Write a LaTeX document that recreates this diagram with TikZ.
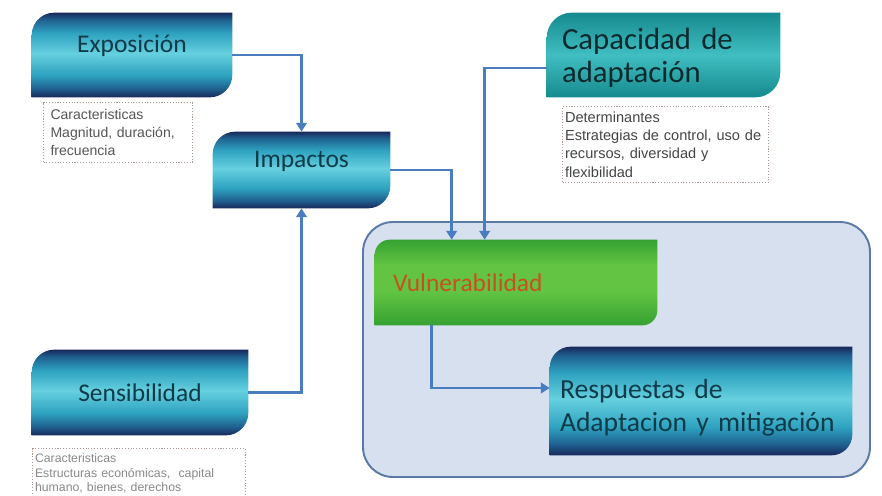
\documentclass[tikz,border=0pt]{standalone}
\usepackage{fontspec}
\setmainfont{Carlito}
\newfontfamily\notefont{Liberation Sans}
\usetikzlibrary{arrows.meta,backgrounds}

\definecolor{navyD}{HTML}{18285A}
\definecolor{blueM}{HTML}{1F5F8E}
\definecolor{cyanM}{HTML}{2EA2C0}
\definecolor{cyanL}{HTML}{66D0DF}
\definecolor{tealD}{HTML}{168A8E}
\definecolor{tealL}{HTML}{40BEC1}
\definecolor{greenD}{HTML}{36A232}
\definecolor{greenL}{HTML}{62C442}
\definecolor{boxtext}{HTML}{0F3A48}
\definecolor{captext}{HTML}{0C2A2E}
\definecolor{vultext}{HTML}{C8501E}
\definecolor{notetext}{HTML}{555555}
\definecolor{noteline}{HTML}{A89890}
\definecolor{arrowblue}{HTML}{4A7CC0}
\definecolor{zonefill}{HTML}{D6E0EE}
\definecolor{zoneline}{HTML}{5B7AA6}

% the path covers 25bp..75bp of a shading
\pgfdeclareverticalshading{navycyan}{100bp}{color(0bp)=(navyD); color(25bp)=(navyD); color(30bp)=(blueM); color(38bp)=(cyanM); color(51bp)=(cyanL); color(63bp)=(cyanM); color(71bp)=(blueM); color(75bp)=(navyD); color(100bp)=(navyD)}
\pgfdeclareverticalshading{tealgrad}{100bp}{color(0bp)=(tealD); color(25bp)=(tealD); color(50bp)=(tealL); color(75bp)=(tealD); color(100bp)=(tealD)}
\pgfdeclareverticalshading{greengrad}{100bp}{color(0bp)=(greenD); color(25bp)=(greenD); color(45bp)=(greenL); color(60bp)=(greenL); color(75bp)=(greenD); color(100bp)=(greenD)}

% box with round top-left and bottom-right corners
\newcommand{\leafshape}[3]{%
  \shade[shading=#2] ([xshift=#3]#1.north west) -- (#1.north east) -- ([yshift=#3]#1.south east)
    arc[start angle=0, end angle=-90, radius=#3] -- (#1.south west) -- ([yshift=-#3]#1.north west)
    arc[start angle=180, end angle=90, radius=#3] -- cycle;}

\begin{document}
\begin{tikzpicture}[x=0.02cm, y=-0.02cm,
  box/.style={inner sep=0pt, text=boxtext, font=\fontsize{14.5}{16}\selectfont},
  note/.style={draw=noteline, densely dotted, line width=0.6pt, anchor=north west, align=left, inner ysep=2pt, text=notetext},
  conn/.style={draw=arrowblue, line width=1.6pt, -{Triangle[width=6pt,length=5pt]}}]
\useasboundingbox (0,0) rectangle (882,495);
\clip (0,0) rectangle (882,495);

\node[box, minimum width=4cm, minimum height=1.68cm, text height=10pt, text depth=13.4pt] (exp) at (132,55) {Exposición};
\node[box, minimum width=3.54cm, minimum height=1.52cm, text height=10pt, text depth=12.3pt] (imp) at (301.5,170) {Impactos};
\node[box, minimum width=4.32cm, minimum height=1.7cm] (sen) at (140,392.5) {Sensibilidad};
\node[box, text width=4.06cm, inner xsep=0.3cm, minimum height=1.68cm, align=left, text=captext, font=\fontsize{17.5}{18.5}\selectfont, text height=16.3pt, text depth=22pt] (cap) at (663.5,55) {Capacidad de\\adaptación};
\node[box, text width=4.92cm, inner xsep=0.36cm, minimum height=1.7cm, align=left, text=vultext] (vul) at (516,282.5) {Vulnerabilidad};
\node[box, text width=5.64cm, inner xsep=0.2cm, minimum height=2.16cm, align=left, font=\fontsize{15.7}{19}\selectfont, text height=18.7pt, text depth=22.1pt] (resp) at (701,401) {Respuestas de\\Adaptacion y mitigación};

\node[note, text width=2.7cm, inner xsep=0.14cm, minimum height=1.2cm, font=\notefont\fontsize{8}{10}\selectfont] (expnote) at (43,102) {Caracteristicas\\Magnitud, duración,\\frecuencia};
\node[note, text width=4.02cm, inner xsep=0.05cm, minimum height=1.52cm, font=\notefont\fontsize{8.3}{10.4}\selectfont, text=notetext!80!black] (capnote) at (562,106) {Determinantes\\Estrategias de control, uso de\\recursos, diversidad y\\flexibilidad};
\node[note, text width=4.16cm, inner xsep=0.05cm, inner ysep=3pt, font=\notefont\fontsize{7}{8.2}\selectfont, text=notetext!70!white] (sennote) at (32,448) {Caracteristicas\\Estructuras económicas,~ capital\\humano, bienes, derechos};

\begin{scope}[on background layer]
\draw[fill=zonefill, draw=zoneline, line width=1.1pt, rounded corners=0.6cm] (363,222) rectangle (870,477);
\leafshape{exp}{navycyan}{0.45cm}
\leafshape{imp}{navycyan}{0.45cm}
\leafshape{sen}{navycyan}{0.45cm}
\leafshape{cap}{tealgrad}{0.5cm}
\leafshape{vul}{greengrad}{0.3cm}
\leafshape{resp}{navycyan}{0.42cm}
\end{scope}

\draw[conn] (exp.east) -| (imp.north);
\draw[conn] (sen.east) -| (imp.south);
\draw[conn] (imp.east) -| ([xshift=1.54cm]vul.north west);
\draw[conn] ([yshift=-0.26cm]cap.west) -| ([xshift=2.2cm]vul.north west);
\draw[conn] ([xshift=1.14cm]vul.south west) |- ([yshift=0.26cm]resp.west);
\end{tikzpicture}
\end{document}
